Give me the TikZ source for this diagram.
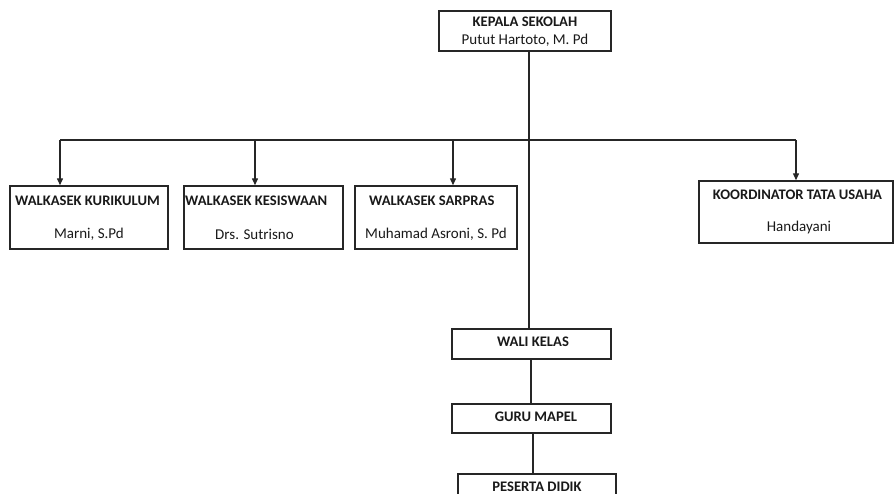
\documentclass[tikz,border=0pt]{standalone}
\usepackage{fontspec}
\setmainfont{Carlito}
\usetikzlibrary{arrows.meta}
\begin{document}
\begin{tikzpicture}[x=1pt,y=-1pt,
  box/.style={draw=black!85,line width=1.4pt,rectangle,inner sep=0pt},
  ttl/.style={font=\fontsize{14.6pt}{16pt}\selectfont\bfseries,inner sep=0pt,text=black!90},
  nm/.style={font=\fontsize{15pt}{16pt}\selectfont,inner sep=0pt,text=black!90},
  ln/.style={draw=black!85,line width=1.3pt},
  arr/.style={ln,-{Triangle[width=6pt,length=7pt]}}]
\useasboundingbox (0,0) rectangle (894,494);
% boxes
\node[box,minimum width=172pt,minimum height=40pt] (kep) at (525,31) {};
\node[box,minimum width=158pt,minimum height=63pt] (kur) at (89,217.5) {};
\node[box,minimum width=159pt,minimum height=63pt] (kes) at (263.5,217.5) {};
\node[box,minimum width=162pt,minimum height=63pt] (sar) at (436,217.5) {};
\node[box,minimum width=194pt,minimum height=62pt] (tu) at (796,212) {};
\node[box,minimum width=159pt,minimum height=30pt] (wali) at (531.5,344) {};
\node[box,minimum width=159pt,minimum height=29pt] (guru) at (531.5,418.5) {};
\node[box,minimum width=158pt,minimum height=40pt] (pes) at (537,494) {};
% texts
\node[ttl] (tkep) at (525,22) {KEPALA SEKOLAH};
\node[nm] (nkep) at (525,40) {Putut Hartoto, M. Pd};
\node[ttl,anchor=west] (tkur) at (15,201) {WALKASEK KURIKULUM};
\node[nm] (nkur) at (89,234) {Marni, S.Pd};
\node[ttl,anchor=west] (tkes) at (185,201) {WALKASEK KESISWAAN};
\node[nm,anchor=west] (nkes) at (215,234) {Drs. Sutrisno};
\node[ttl,anchor=west] (tsar) at (369,201) {WALKASEK SARPRAS};
\node[nm] (nsar) at (436,234) {Muhamad Asroni, S. Pd};
\node[ttl] (ttu) at (797.5,195) {KOORDINATOR TATA USAHA};
\node[nm] (ntu) at (799,228) {Handayani};
\node[ttl] (twali) at (533,342) {WALI KELAS};
\node[ttl] (tguru) at (536,417) {GURU MAPEL};
\node[ttl] (tpes) at (537,486.5) {PESERTA DIDIK};
% connectors
\coordinate (hl) at (60,140);
\coordinate (hr) at (796,140);
\coordinate (h2) at (255,140);
\coordinate (h3) at (453,140);
\draw[ln] (hl) -- (hr);
\draw[arr] (hl) -- (hl |- kur.north);
\draw[arr] (h2) -- (h2 |- kes.north);
\draw[arr] (h3) -- (h3 |- sar.north);
\draw[arr] (hr) -- (hr |- tu.north);
\coordinate (v1) at (529,0);
\draw[ln] (v1 |- kep.south) -- (v1 |- wali.north);
\coordinate (v2) at (531,0);
\draw[ln] (v2 |- wali.south) -- (v2 |- guru.north);
\coordinate (v3) at (533,0);
\draw[ln] (v3 |- guru.south) -- (v3 |- pes.north);
\end{tikzpicture}
\end{document}
